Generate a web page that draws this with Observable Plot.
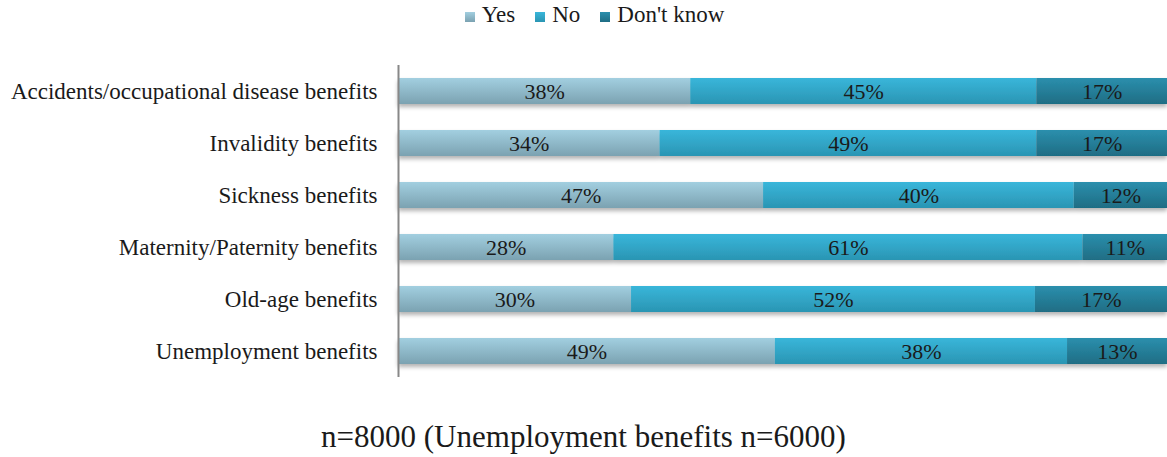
<!DOCTYPE html>
<html>
<head>
<meta charset="utf-8">
<script src="https://cdn.jsdelivr.net/npm/d3@7"></script>
<script src="https://cdn.jsdelivr.net/npm/@observablehq/plot@0.6"></script>
<style>
  body { margin: 0; background: #fff; width: 1167px; overflow: hidden; font-family: "Liberation Serif", "DejaVu Serif", serif; color: #1a1a1a; }
  #legend { height: 34px; line-height: 30px; display: flex; justify-content: center; align-items: baseline; font-size: 23px; padding-left: 22px; }
  #legend .item { display: flex; align-items: baseline; margin: 0 10px; }
  #legend .sw { display: inline-block; width: 10px; height: 10px; margin-right: 7px; }
  #caption { margin-top: 15px; text-align: center; font-size: 31px; line-height: 36px; }
</style>
</head>
<body>
<div id="legend"></div>
<div id="chart"></div>
<div id="caption">n=8000 (Unemployment benefits n=6000)</div>
<script>
const categories = [
  "Accidents/occupational disease benefits",
  "Invalidity benefits",
  "Sickness benefits",
  "Maternity/Paternity benefits",
  "Old-age benefits",
  "Unemployment benefits"
];
const series = ["Yes", "No", "Don't know"];
const yesValues = [38, 34, 47, 28, 30, 49];
const noValues = [45, 49, 40, 61, 52, 38];
const dontKnowValues = [17, 17, 12, 11, 17, 13];
const seriesValues = [yesValues, noValues, dontKnowValues];

const gradTop = ["#a2cfe0", "#39b6da", "#2b8fad"];
const gradBottom = ["#7ba2b1", "#2a95b3", "#1f6d84"];
const gradIds = ["gYes", "gNo", "gDk"];

const data = [];
categories.forEach((c, i) => {
  series.forEach((s, j) => {
    data.push({cat: c, series: s, value: seriesValues[j][i]});
  });
});

const stackOpts = {x: "value", y: "cat", z: "series", offset: "normalize"};
const serif = "'Liberation Serif', 'DejaVu Serif', serif";

const plot = Plot.plot({
  width: 1167,
  height: 370,
  marginLeft: 398,
  marginRight: 0,
  marginTop: 31,
  marginBottom: 27,
  style: {fontFamily: serif, fontSize: "22px", color: "#1a1a1a"},
  x: {domain: [0, 1], axis: null},
  y: {domain: categories, paddingInner: 0.5, paddingOuter: 0.25, axis: null},
  color: {domain: series, range: gradIds.map(id => `url(#${id})`)},
  marks: [
    Plot.barX(data, Plot.stackX({...stackOpts, fill: "series"})),
    Plot.text(data, Plot.stackX({...stackOpts, text: d => `${d.value}%`, fill: "#1a1a1a", fontSize: 22, fontFamily: serif})),
    Plot.axisY({tickSize: 0, tickPadding: 21, fontSize: 23, fontFamily: serif, fill: "#1a1a1a", label: null}),
    Plot.ruleX([0], {stroke: "#888", strokeWidth: 2})
  ]
});

const svg = d3.select(plot);
const defs = svg.insert("defs", ":first-child");
gradIds.forEach((id, i) => {
  const g = defs.append("linearGradient").attr("id", id).attr("x1", 0).attr("x2", 0).attr("y1", 0).attr("y2", 1);
  g.append("stop").attr("offset", "0%").attr("stop-color", gradTop[i]);
  g.append("stop").attr("offset", "100%").attr("stop-color", gradBottom[i]);
});
const f = defs.append("filter").attr("id", "shadow").attr("x", "-5%").attr("y", "-30%").attr("width", "110%").attr("height", "180%");
f.append("feDropShadow").attr("dx", 0).attr("dy", 3).attr("stdDeviation", 2).attr("flood-color", "#000").attr("flood-opacity", 0.3);
svg.select('g[aria-label="bar"]').attr("filter", "url(#shadow)");

document.getElementById("chart").appendChild(plot);

const legend = document.getElementById("legend");
series.forEach((s, i) => {
  const item = document.createElement("span");
  item.className = "item";
  const sw = document.createElement("span");
  sw.className = "sw";
  sw.style.background = `linear-gradient(${gradTop[i]}, ${gradBottom[i]})`;
  item.appendChild(sw);
  item.appendChild(document.createTextNode(s));
  legend.appendChild(item);
});
</script>
</body>
</html>
